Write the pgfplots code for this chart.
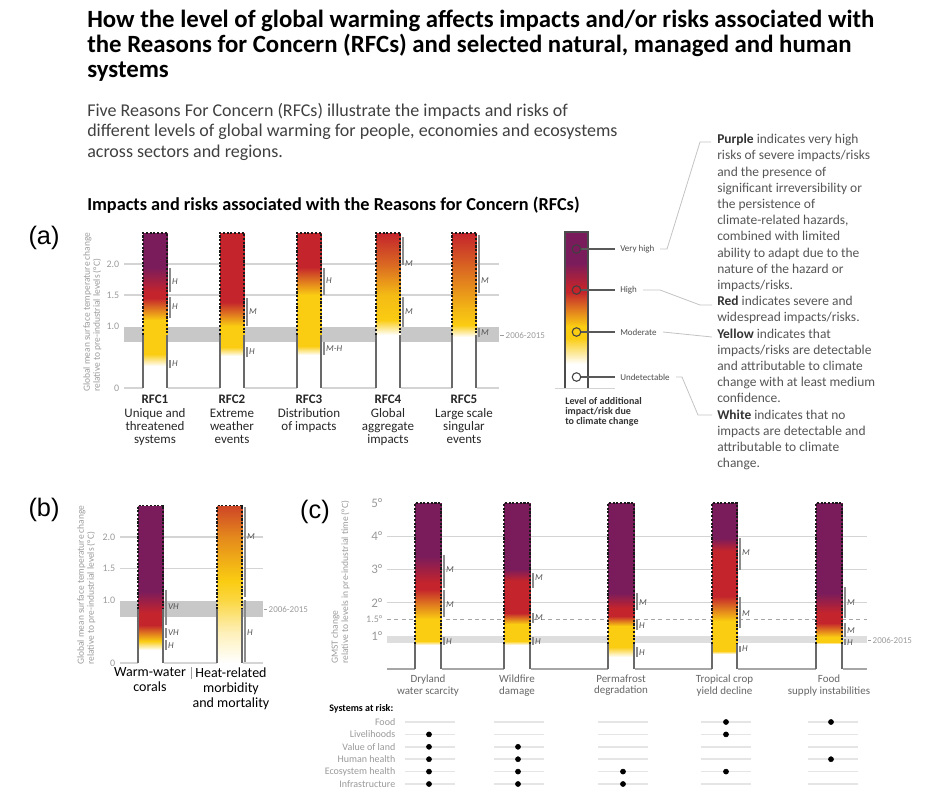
\documentclass[border=0pt]{standalone}
\usepackage{pgfplots}
\pgfplotsset{compat=1.18}
\usepackage{fontspec}
\setmainfont{Carlito}
\newfontfamily\arialfont{Liberation Sans}

\definecolor{bandA}{RGB}{200,200,200}
\definecolor{bandC}{RGB}{222,222,222}
\definecolor{gridc}{RGB}{212,212,212}
\definecolor{ticklab}{RGB}{155,155,155}
\definecolor{confc}{RGB}{140,140,140}
\definecolor{conftxt}{RGB}{85,85,85}
\definecolor{bodytxt}{RGB}{85,85,85}
\definecolor{sidegray}{RGB}{105,105,105}
\definecolor{linkc}{RGB}{195,195,195}

\newcommand\px[2]{\fontsize{#1pt}{#2pt}\selectfont}

% gradient bar: left x, right x, list of level/risk
\newcommand\riskbar[3]{%
  \gdef\pts{}%
  \foreach \yy/\mm in {#3}{\xdef\pts{\pts (#1,\yy) [\mm] (#2,\yy) [\mm]}}%
  \edef\doplot{\noexpand\addplot[surf, shader=interp, point meta=explicit, mesh/cols=2] coordinates {\pts};}%
  \doplot
}
% sides: solid up to #3, dashed up to #4
\newcommand\barframe[4]{%
  \addplot[sidegray, line width=1.2pt, no marks] coordinates {(#1,0) (#1,#3)};
  \addplot[sidegray, line width=1.2pt, no marks] coordinates {(#2,0) (#2,#3)};
  \addplot[black!90, line width=0.9pt, dash pattern=on 1.6pt off 1.2pt, no marks] coordinates {(#1,#3) (#1,#4) (#2,#4) (#2,#3)};
}
% confidence marker
\newcommand\conf[5]{%
  \addplot[confc, line width=0.8pt, no marks] coordinates {(#1,#2) (#1,#3)};
  \node[anchor=west, inner sep=0pt, xshift=1.4pt, text=conftxt, font=\px{6.75}{7}\itshape] at (axis cs:#1,#4) {#5};
}

\pgfplotsset{
  riskpanel/.style={
    scale only axis, anchor=south west, clip=false, enlargelimits=false,
    axis x line=bottom, axis y line=left, axis line style={draw=none},
    major tick length=0pt, tick style={draw=none},
    colormap={risk}{rgb255=(255,255,255) rgb255=(250,204,18) rgb255=(196,36,44) rgb255=(122,28,92)},
    point meta min=0, point meta max=3,
    /pgf/number format/assume math mode=true,
    yticklabel style={text=ticklab},
    xticklabel style={align=center},
  },
}

\begin{document}
\begin{tikzpicture}[x=0.75pt, y=-0.75pt]
\useasboundingbox (0,0) rectangle (932,804);

% ---------- headings ----------
\node[anchor=north west, align=left, inner sep=0pt, font=\px{18.6}{18.75}\bfseries] at (87,10)
  {How the level of global warming affects impacts and/or risks associated with\\
   the Reasons for Concern (RFCs) and selected natural, managed and human\\
   systems};
\node[anchor=north west, align=left, inner sep=0pt, text=black!75, font=\px{13.5}{15.4}] at (87,103)
  {Five Reasons For Concern (RFCs) illustrate the impacts and risks of\\
   different levels of global warming for people, economies and ecosystems\\
   across sectors and regions.};
\node[anchor=west, inner sep=0pt, font=\px{13.7}{14}\bfseries] at (87,205)
  {Impacts and risks associated with the Reasons for Concern (RFCs)};

\node[font=\arialfont\px{19}{20}] at (44,238) {(a)};
\node[font=\arialfont\px{19}{20}] at (44,510) {(b)};
\node[font=\arialfont\px{19}{20}] at (315,512) {(c)};

% ---------- right column text ----------
\node[anchor=north west, align=left, inner sep=0pt, text=bodytxt, font=\px{10.1}{12.15}] at (717,134)
  {\textcolor{black!80}{\textbf{Purple}} indicates very high\\
   risks of severe impacts/risks\\
   and the presence of\\
   significant irreversibility or\\
   the persistence of\\
   climate-related hazards,\\
   combined with limited\\
   ability to adapt due to the\\
   nature of the hazard or\\
   impacts/risks.\\
   \textcolor{black!80}{\textbf{Red}} indicates severe and\\
   widespread impacts/risks.\\
   \textcolor{black!80}{\textbf{Yellow}} indicates that\\
   impacts/risks are detectable\\
   and attributable to climate\\
   change with at least medium\\
   confidence.\\
   \textcolor{black!80}{\textbf{White}} indicates that no\\
   impacts are detectable and\\
   attributable to climate\\
   change.};
\draw[linkc, line width=0.6pt] (660,249) -- (667,249) -- (700,142) -- (711,142);
\draw[linkc, line width=0.6pt] (643,290) -- (660,290) -- (700,305) -- (712,305);
\draw[linkc, line width=0.6pt] (663,332) -- (712,337);
\draw[linkc, line width=0.6pt] (676,377) -- (682,377) -- (698,415) -- (712,415);

% ---------- panel (a) ----------
\node[anchor=north west, rotate=90, align=left, inner sep=0pt, text=ticklab, font=\px{7.1}{7.6}] at (83,392)
  {Global mean surface temperature change\\relative to pre-industrial levels (°C)};
\coordinate (pa) at (124,388);
\begin{axis}[riskpanel, at={(pa)}, width=281.25pt, height=116.25pt,
  xmin=124, xmax=499, ymin=0, ymax=2.5,
  ytick={0,1,1.5,2}, yticklabels={0,1.0,1.5,2.0},
  yticklabel style={font=\px{7.5}{8}},
  xtick={155,232,309,388,464},
  xticklabels={{\textbf{RFC1}\\Unique and\\threatened\\systems},
               {\textbf{RFC2}\\Extreme\\weather\\events},
               {\textbf{RFC3}\\Distribution\\of impacts},
               {\textbf{RFC4}\\Global\\aggregate\\impacts},
               {\textbf{RFC5}\\Large scale\\singular\\events}},
  xticklabel style={font=\px{9.75}{10}, text=black!85, yshift=-2pt},
]
\addplot[gridc, line width=0.8pt, no marks] coordinates {(124,0) (499,0)};
\addplot[gridc, line width=0.8pt, no marks] coordinates {(124,1.5) (499,1.5)};
\addplot[gridc, line width=0.8pt, no marks] coordinates {(124,2) (499,2)};
\addplot[draw=none, fill=bandA] coordinates {(124,0.74) (499,0.74) (499,0.98) (124,0.98)};

\riskbar{143}{167}{0/0, 0.35/0, 0.55/1, 1.1/1, 1.45/2, 1.55/2, 1.95/3, 2.5/3}
\riskbar{220}{244}{0/0, 0.52/0, 0.66/1, 1.0/1, 1.38/2, 2.5/2}
\riskbar{297}{321}{0/0, 0.53/0, 0.68/1, 1.5/1, 1.95/2, 2.5/2}
\riskbar{376}{400}{0/0, 0.85/0, 1.1/1, 1.5/1.1, 2.0/1.6, 2.5/2}
\riskbar{452}{476}{0/0, 0.83/0, 1.02/1, 1.3/1.15, 2.5/2}
\barframe{143}{167}{0.86}{2.5}
\barframe{220}{244}{0.86}{2.5}
\barframe{297}{321}{0.86}{2.5}
\barframe{376}{400}{0.86}{2.5}
\barframe{452}{476}{0.86}{2.5}

\conf{170}{1.55}{1.94}{1.71}{H}
\conf{170}{1.13}{1.47}{1.31}{H}
\conf{170}{0.32}{0.45}{0.39}{H}
\conf{247}{1.0}{1.45}{1.23}{M}
\conf{247}{0.5}{0.66}{0.58}{H}
\conf{324}{1.5}{1.94}{1.74}{H}
\conf{324}{0.53}{0.74}{0.64}{M-H}
\conf{403}{1.98}{2.44}{2.0}{M}
\conf{403}{0.98}{1.47}{1.23}{M}
\conf{479}{1.53}{2.47}{1.74}{M}
\conf{479}{0.82}{0.97}{0.89}{M}
\end{axis}
\draw[ticklab, line width=0.6pt] (500,335) -- (504,335) node[right, inner sep=1pt, font=\px{6.75}{7}] {2006-2015};

% ---------- legend bar ----------
\coordinate (pl) at (565,388);
\begin{axis}[riskpanel, at={(pl)}, width=17.25pt, height=117pt,
  xmin=565, xmax=588, ymin=0, ymax=156, xtick=\empty, ytick=\empty]
\riskbar{565}{588}{0/0, 24/0, 50/1, 62/1, 96/2, 100/2, 125/3, 156/3}
\addplot[black!70, line width=1.1pt, no marks] coordinates {(565,0) (565,156) (588,156) (588,0)};
\addplot[black!65, line width=0.9pt, no marks] coordinates {(581,139) (615,139)};
\addplot[black!65, line width=0.9pt, no marks] coordinates {(581,98) (615,98)};
\addplot[black!65, line width=0.9pt, no marks] coordinates {(581,56) (615,56)};
\addplot[black!65, line width=0.9pt, no marks] coordinates {(581,11) (615,11)};
\addplot[only marks, mark=o, mark size=3.2pt, mark options={draw=black!75, line width=0.8pt}]
  coordinates {(576.5,139) (576.5,98) (576.5,56) (576.5,11)};
\node[anchor=west, inner sep=0pt, text=black!70, font=\px{6.75}{7}] at (axis cs:620,139) {Very high};
\node[anchor=west, inner sep=0pt, text=black!70, font=\px{6.75}{7}] at (axis cs:620,98) {High};
\node[anchor=west, inner sep=0pt, text=black!70, font=\px{6.75}{7}] at (axis cs:620,56) {Moderate};
\node[anchor=west, inner sep=0pt, text=black!70, font=\px{6.75}{7}] at (axis cs:620,11) {Undetectable};
\end{axis}
\draw[gridc, line width=0.6pt] (555,388) -- (615,388);
\node[anchor=north west, align=left, inner sep=0pt, text=black!80, font=\px{7.5}{7.6}\bfseries] at (565,397)
  {Level of additional\\impact/risk due\\to climate change};

% ---------- panel (b) ----------
\node[anchor=north west, rotate=90, align=left, inner sep=0pt, text=ticklab, font=\px{7.1}{7.6}] at (77,665)
  {Global mean surface temperature change\\relative to pre-industrial levels (°C)};
\coordinate (pb) at (120,663);
\begin{axis}[riskpanel, at={(pb)}, width=107.25pt, height=118.125pt,
  xmin=120, xmax=263, ymin=0, ymax=2.5,
  ytick={0,1,1.5,2}, yticklabels={0,1.0,1.5,2.0},
  yticklabel style={font=\px{7.5}{8}},
  xtick={150,231},
  xticklabels={{Warm-water\\corals},{Heat-related\\morbidity\\and mortality}},
  xticklabel style={font=\px{10.5}{11.25}, text=black, yshift=0pt},
]
\addplot[gridc, line width=0.8pt, no marks] coordinates {(120,0) (263,0)};
\addplot[gridc, line width=0.8pt, no marks] coordinates {(120,1.5) (263,1.5)};
\addplot[gridc, line width=0.8pt, no marks] coordinates {(120,2) (263,2)};
\addplot[draw=none, fill=bandA] coordinates {(120,0.73) (263,0.73) (263,0.98) (120,0.98)};

\riskbar{138}{163}{0/0, 0.2/0, 0.35/1, 0.6/2, 0.8/2, 1.15/3, 2.5/3}
\riskbar{217}{242}{0/0, 0.5/0.3, 1.0/0.8, 1.3/1, 1.5/1.1, 2.0/1.4, 2.5/1.8}
\barframe{138}{163}{0.85}{2.5}
\barframe{217}{242}{0.85}{2.5}

\conf{166}{0.6}{1.16}{0.89}{VH}
\conf{166}{0.4}{0.55}{0.48}{VH}
\conf{166}{0.2}{0.37}{0.27}{H}
\conf{245}{1.05}{2.48}{2.0}{M}
\conf{245}{0.02}{1.0}{0.48}{H}
\end{axis}
\draw[ticklab, line width=0.6pt] (264,609) -- (267,609) node[right, inner sep=1pt, font=\px{6.75}{7}] {2006-2015};
\draw[ticklab, line width=0.6pt] (191,667) -- (191,679);

% ---------- panel (c) ----------
\node[anchor=north west, rotate=90, align=left, inner sep=0pt, text=ticklab, font=\px{7.15}{7.6}] at (331,664)
  {GMST change\\relative to levels in pre-industrial time (°C)};
\coordinate (pc) at (387,669);
\begin{axis}[riskpanel, at={(pc)}, width=360pt, height=124.5pt,
  xmin=387, xmax=867, ymin=0, ymax=5,
  ytick={1,1.5,2,3,4,5}, yticklabels={1°,{\px{7.5}{8}1.5°},2°,3°,4°,5°},
  yticklabel style={font=\px{9.75}{10}, text=black!40},
  xtick={428,517,621,724.5,829},
  xticklabels={{Dryland\\water scarcity},{Wildfire\\damage},{Permafrost\\degradation},
               {Tropical crop\\yield decline},{Food\\supply instabilities}},
  xticklabel style={font=\px{8.25}{8.5}, text=black!60, yshift=-1pt},
]
\addplot[black!35, line width=0.8pt, no marks] coordinates {(387,0) (867,0)};
\addplot[gridc, line width=0.8pt, no marks] coordinates {(387,2) (867,2)};
\addplot[gridc, line width=0.8pt, no marks] coordinates {(387,3) (867,3)};
\addplot[gridc, line width=0.8pt, no marks] coordinates {(387,4) (867,4)};
\addplot[black!35, line width=0.7pt, dash pattern=on 3pt off 2.5pt, no marks] coordinates {(387,1.5) (867,1.5)};
\addplot[draw=none, fill=bandC] coordinates {(387,0.77) (867,0.77) (867,0.99) (387,0.99)};

\riskbar{415}{441}{0/0, 0.72/0, 0.85/1, 1.5/1, 2.4/2, 2.6/2, 3.4/3, 5/3}
\riskbar{504}{530}{0/0, 0.72/0, 0.85/1, 1.35/1, 1.7/2, 2.65/2, 3.0/3, 5/3}
\riskbar{608}{634}{0/0, 0.35/0, 0.65/1, 1.3/1, 1.6/2, 1.85/2, 2.3/3, 5/3}
\riskbar{712}{737}{0/0, 0.45/0, 0.55/1, 1.45/1, 2.2/2, 3.55/2, 3.95/3, 5/3}
\riskbar{816}{842}{0/0, 0.76/0, 0.8/1, 0.95/1, 1.4/2, 1.7/2, 2.3/3, 5/3}
\barframe{415}{441}{0.75}{5}
\barframe{504}{530}{0.75}{5}
\barframe{608}{634}{0.75}{5}
\barframe{712}{737}{0.75}{5}
\barframe{816}{842}{0.75}{5}

\conf{444}{2.44}{3.43}{2.98}{M}
\conf{444}{1.57}{2.38}{1.93}{M}
\conf{444}{0.72}{0.96}{0.84}{H}
\conf{533}{2.45}{2.9}{2.74}{M}
\conf{533}{1.4}{1.7}{1.54}{M}
\conf{533}{0.72}{0.96}{0.84}{H}
\conf{637}{1.78}{2.28}{1.99}{M}
\conf{637}{1.18}{1.48}{1.30}{H}
\conf{637}{0.36}{0.66}{0.48}{H}
\conf{740}{2.98}{3.95}{3.5}{M}
\conf{740}{1.23}{2.17}{1.68}{M}
\conf{740}{0.51}{0.69}{0.6}{H}
\conf{845}{1.54}{2.47}{1.99}{M}
\conf{845}{0.97}{1.39}{1.17}{M}
\conf{845}{0.72}{0.9}{0.81}{H}
\end{axis}
\draw[ticklab, line width=0.6pt] (868,640) -- (871,640) node[right, inner sep=1pt, font=\px{6.75}{7}] {2006-2015};

% ---------- systems at risk ----------
\node[anchor=west, inner sep=0pt, font=\px{7.5}{8}\bfseries] at (329,709) {Systems at risk:};
\coordinate (ps) at (400,784);
\begin{axis}[riskpanel, at={(ps)}, width=350.25pt, height=46.5pt,
  xmin=400, xmax=867, ymin=1, ymax=6, y dir=reverse,
  xtick=\empty, ytick={1,2,3,4,5,6},
  yticklabels={Food,Livelihoods,Value of land,Human health,Ecosystem health,Infrastructure},
  yticklabel style={font=\px{7.5}{8}, text=black!40},
]
\addplot[only marks, mark=-, mark size=19pt, mark options={draw=black!10, line width=1.1pt}] coordinates {
  (430,1) (430,2) (430,3) (430,4) (430,5) (430,6)
  (519,1) (519,2) (519,3) (519,4) (519,5) (519,6)
  (623,1) (623,2) (623,3) (623,4) (623,5) (623,6)
  (726,1) (726,2) (726,3) (726,4) (726,5) (726,6)
  (833,1) (833,2) (833,3) (833,4) (833,5) (833,6)};
\addplot[only marks, mark=*, mark size=1.9pt, black] coordinates {
  (429,2) (429,3) (429,4) (429,5) (429,6)
  (518,3) (518,4) (518,5) (518,6)
  (623,5) (623,6)
  (726,1) (726,2) (726,5)
  (831,1) (831,4)};
\end{axis}
\end{tikzpicture}
\end{document}
